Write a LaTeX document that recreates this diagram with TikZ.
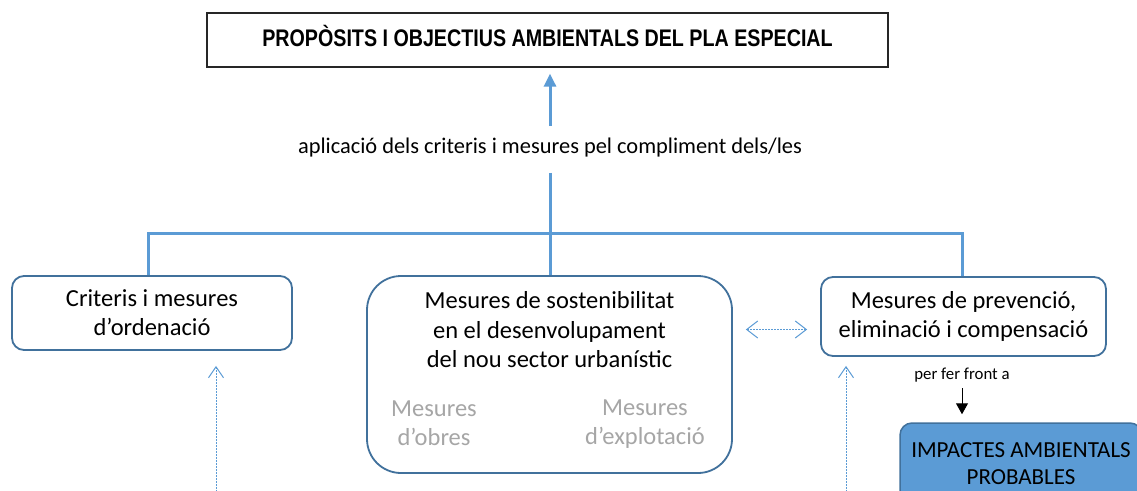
\documentclass[tikz,border=0pt]{standalone}
\usepackage{fontspec}
\setmainfont{Carlito}
\newfontfamily\titlefont[FakeStretch=0.82]{Liberation Sans}
\usetikzlibrary{arrows.meta}
\definecolor{conn}{HTML}{5B9BD5}
\definecolor{bord}{HTML}{41719C}
\definecolor{graytxt}{HTML}{A6A6A6}
\definecolor{titlebord}{HTML}{262626}
\tikzset{
  connline/.style={draw=conn, line width=3pt, line join=miter},
  boxsmall/.style={draw=bord, line width=1.8pt, rounded corners=12pt, align=center,
    font=\fontsize{24.5}{29}\selectfont, inner sep=0pt},
  dotarrow/.style={draw=conn, line width=1pt, dash pattern=on 2pt off 1pt,
    -{Straight Barb[length=11pt,width=15pt,line width=1pt]}},
  dblarrow/.style={draw=conn, line width=1pt, dash pattern=on 2pt off 1pt,
    {Straight Barb[length=11pt,width=17pt,line width=1pt]}-{Straight Barb[length=11pt,width=17pt,line width=1pt]}},
  graylbl/.style={text=graytxt, align=center, font=\fontsize{24.5}{29}\selectfont, inner sep=0pt}
}
\begin{document}
\begin{tikzpicture}[x=1pt,y=-1pt]
\clip (0,0) rectangle (1137,490);
\fill[white] (0,0) rectangle (1137,490);
% title
\node[draw=titlebord, line width=1.3pt, minimum width=681pt, minimum height=54pt, inner sep=0pt,
  text height=17pt, text depth=5pt,
  font=\titlefont\bfseries\fontsize{24}{28}\selectfont] (title) at (547.5,40)
  {PROPÒSITS I OBJECTIUS AMBIENTALS DEL PLA ESPECIAL};
% label
\node[inner sep=0pt, font=\fontsize{22.4}{26}\selectfont] (lbl) at (550,148)
  {aplicació dels criteris i mesures pel compliment dels/les};
% boxes
\node[boxsmall, minimum width=280pt, minimum height=74pt] (L) at (152,313)
  {Criteris i mesures\\d’ordenació};
\node[draw=bord, line width=1.8pt, rounded corners=34pt, minimum width=365pt, minimum height=197pt, inner sep=0pt] (M) at (549.5,374.5) {};
\node[align=center, inner sep=0pt, font=\fontsize{24.5}{29.5}\selectfont] (Mt) at (549.5,330)
  {Mesures de sostenibilitat\\en el desenvolupament\\del nou sector urbanístic};
\node[graylbl] (Mo) at (434,423) {Mesures\\d’obres};
\node[graylbl] (Me) at (645,424) {Mesures\\d’explotació};
\node[boxsmall, minimum width=285pt, minimum height=79pt] (R) at (963.5,316.5)
  {Mesures de prevenció,\\eliminació i compensació};
\node[inner sep=0pt, font=\fontsize{16.8}{20}\selectfont] (per) at (962,375) {per fer front a};
\node[draw=bord, fill=conn, line width=1.5pt, rounded corners=12pt, minimum width=242pt,
  minimum height=82pt, inner sep=0pt, align=center, font=\fontsize{23}{27}\selectfont] (I) at (1021,464)
  {IMPACTES AMBIENTALS\\PROBABLES};
% connectors
\coordinate (J) at (549,233);
\draw[connline, -{Triangle[length=13pt,width=12pt]}, shorten >=6pt] ([yshift=12pt]lbl.north) -- (lbl.north |- title.south);
\draw[connline] ([yshift=-15pt]lbl.south) -- (lbl.south |- M.north);
\draw[connline] ([xshift=-4pt]L.north) |- (J) -| ([xshift=-1.5pt]R.north);
\draw[dblarrow] ([shift={(13,-45)}]M.east) -- ([shift={(-13,13)}]R.west);
\coordinate (d1) at (216,495);
\coordinate (d2) at (846,495);
\draw[dotarrow, shorten >=15pt] (d1) -- ([xshift=64pt]L.south);
\draw[dotarrow, shorten >=9pt] (d2) -- ([xshift=-117.5pt]R.south);
\draw[line width=1pt, -{Triangle[length=11pt,width=12pt]}, shorten <=6pt, shorten >=8pt] (per.south) -- (per.south |- I.north);
\end{tikzpicture}
\end{document}
